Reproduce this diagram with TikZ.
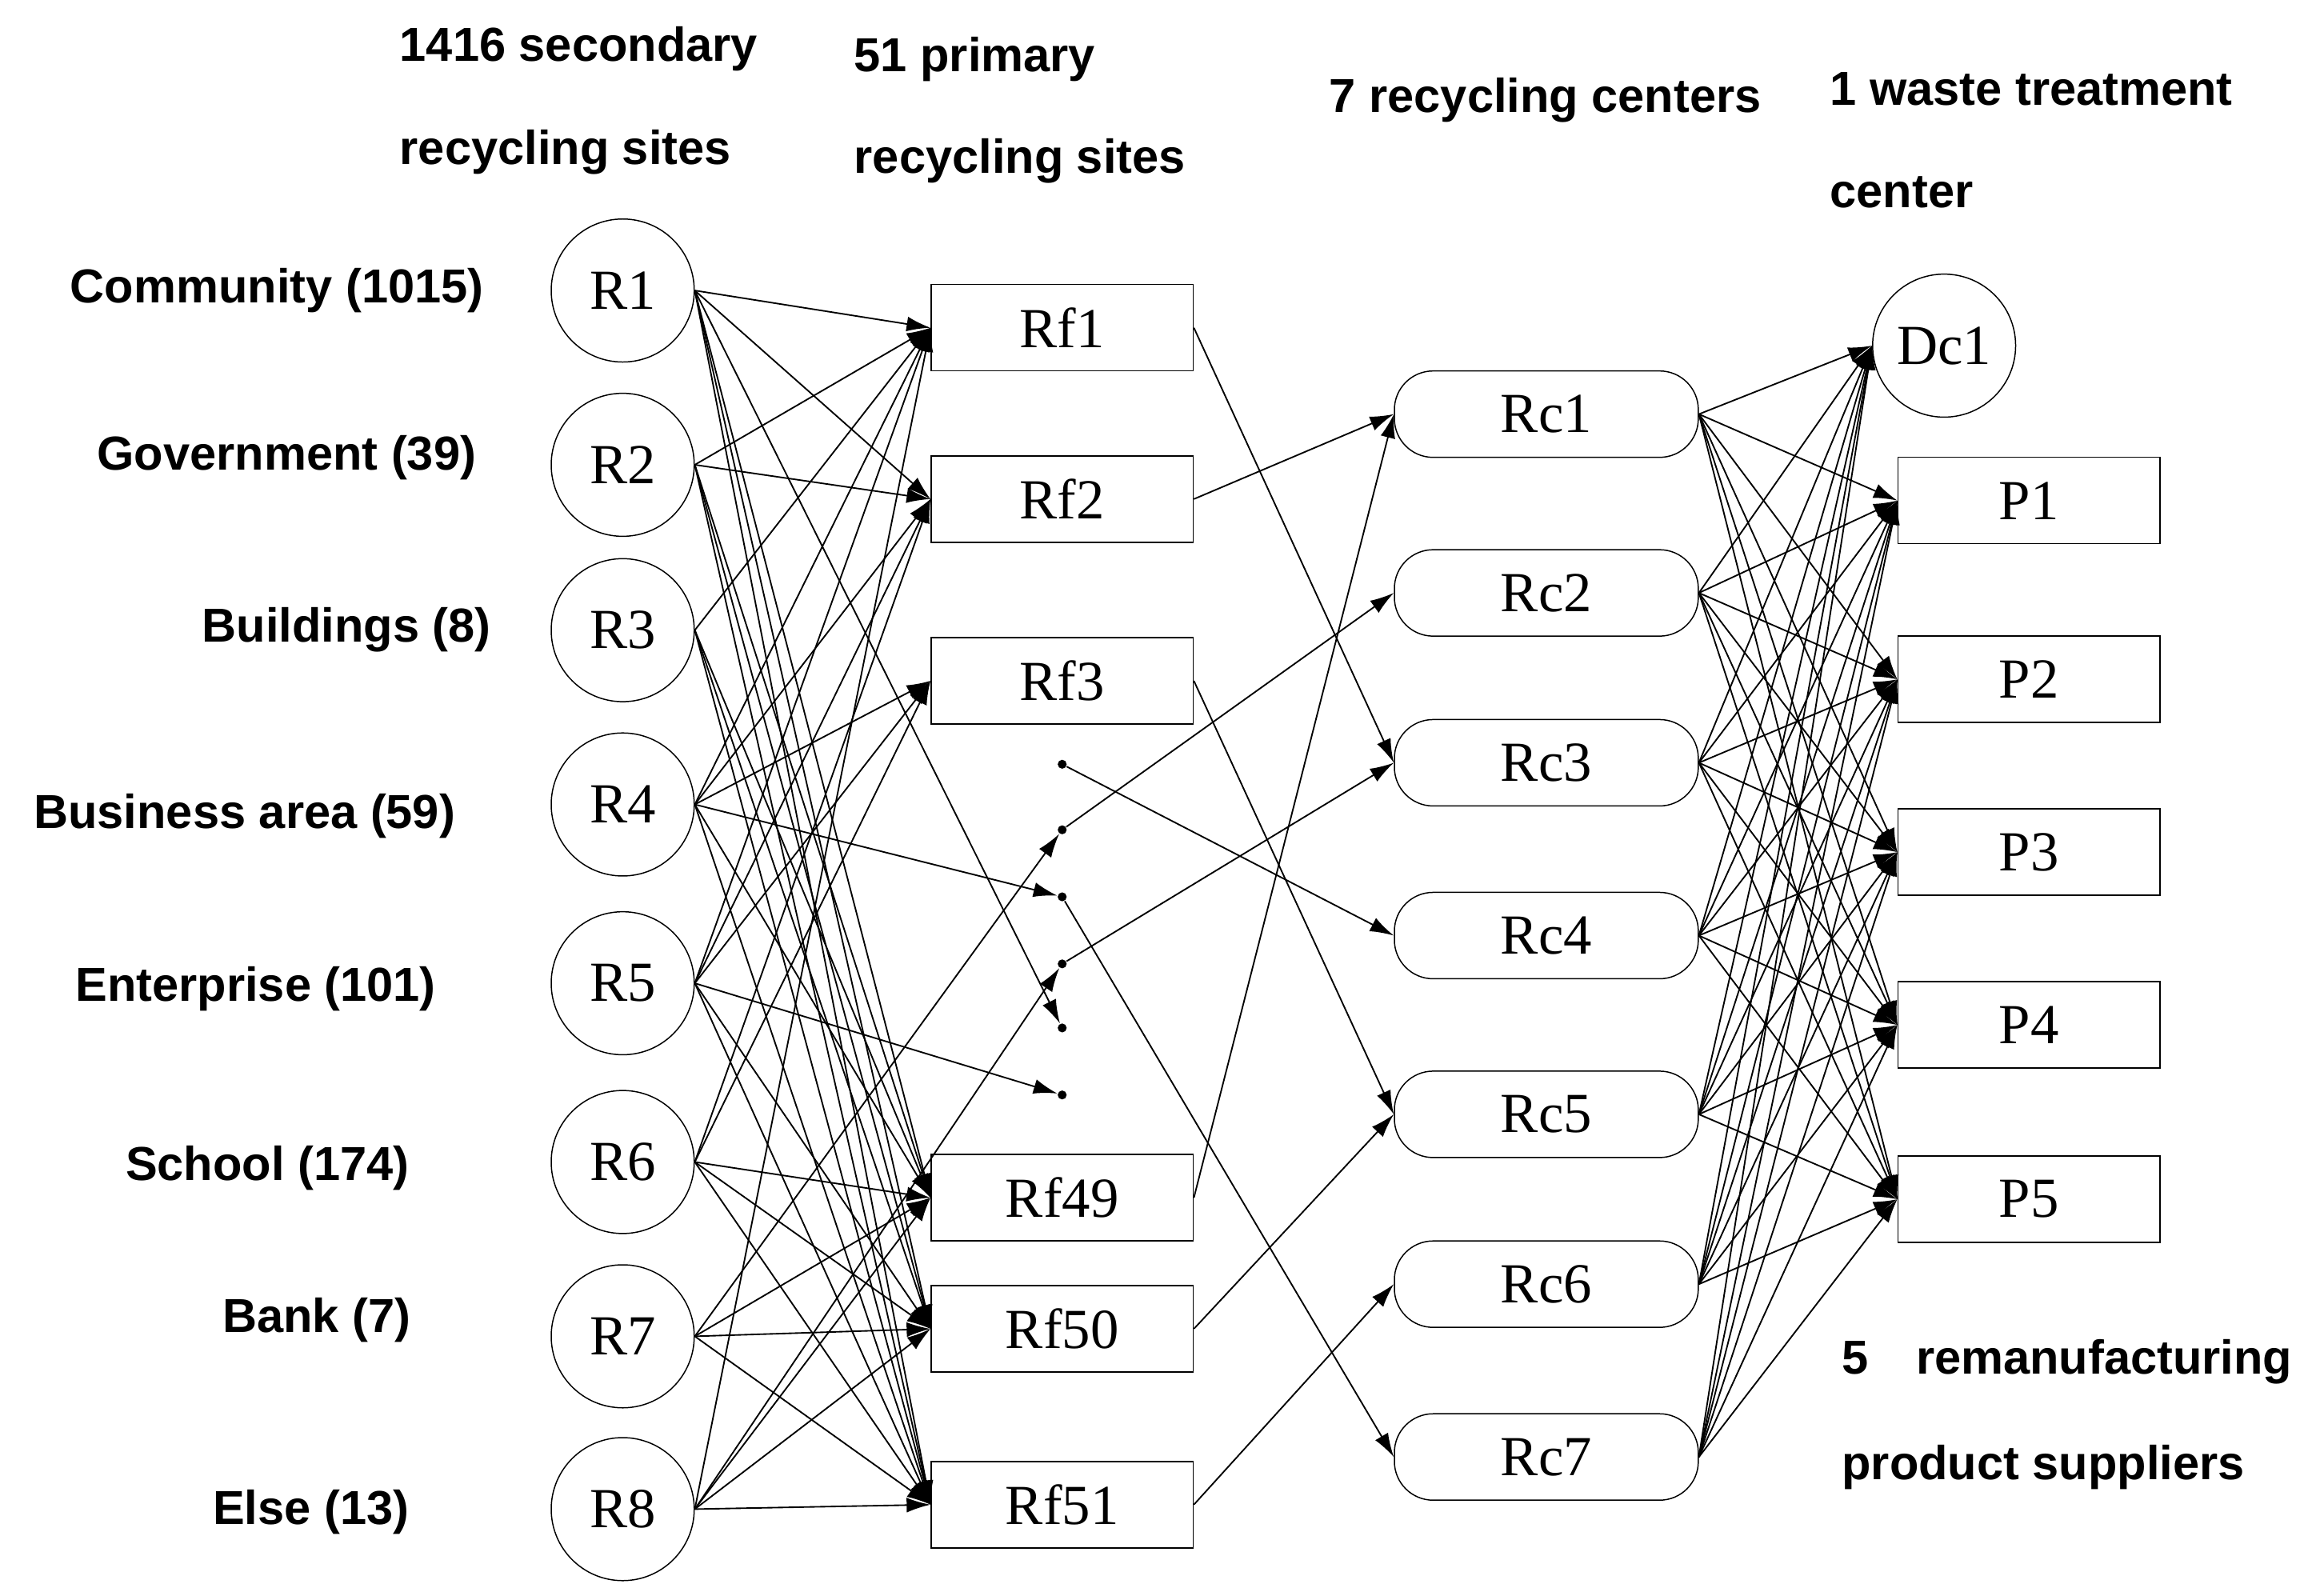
\documentclass[tikz,border=0pt]{standalone}
\usepackage{fontspec}
\setmainfont{Liberation Serif}
\newfontfamily\lab{Liberation Sans}
\usetikzlibrary{arrows.meta}
\begin{document}
\begin{tikzpicture}[x=0.5pt,y=-0.5pt,
  rn/.style={circle,draw,minimum size=48pt,inner sep=0pt,font=\fontsize{19}{19}\selectfont},
  bx/.style={rectangle,draw,minimum width=88pt,minimum height=29pt,inner sep=0pt,font=\fontsize{19}{19}\selectfont},
  rc/.style={rectangle,rounded corners=13pt,draw,minimum width=102pt,minimum height=29pt,inner sep=0pt,font=\fontsize{19}{19}\selectfont},
  dt/.style={circle,fill,inner sep=0pt,minimum size=3pt},
  lb/.style={font=\lab\bfseries\fontsize{16}{16}\selectfont,inner sep=0pt},
  ar/.style={-{Latex[length=8pt,width=5pt]},line width=0.5pt}]
\useasboundingbox (0,0) rectangle (1560,1071);
\foreach \i/\y in {1/195,2/312,3/423,4/540,5/660,6/780,7/897,8/1013}
  \node[rn] (R\i) at (418,\y) {R\i};
\foreach \n/\y in {1/220,2/335,3/457,49/804,50/892,51/1010}
  \node[bx] (Rf\n) at (713,\y) {Rf\n};
\foreach \i/\y in {1/513,2/557,3/602,4/647,5/690,6/735}
  \node[dt] (d\i) at (713,\y) {};
\foreach \i/\y in {1/278,2/398,3/512,4/628,5/748,6/862,7/978}
  \node[rc] (Rc\i) at (1038,\y) {Rc\i};
\node[rn] (Dc1) at (1305,232) {Dc1};
\foreach \i/\y in {1/336,2/456,3/572,4/688,5/805}
  \node[bx] (P\i) at (1362,\y) {P\i};
\node[lb,anchor=east] (l1) at (325,195) {Community (1015)};
\node[lb,anchor=east] (l2) at (320,307) {Government (39)};
\node[lb,anchor=east] (l3) at (330,423) {Buildings (8)};
\node[lb,anchor=east] (l4) at (306,548) {Business area (59)};
\node[lb,anchor=east] (l5) at (293,664) {Enterprise (101)};
\node[lb,anchor=east] (l6) at (275,784) {School (174)};
\node[lb,anchor=east] (l7) at (276,886) {Bank (7)};
\node[lb,anchor=east] (l8) at (275,1015) {Else (13)};
\node[lb,anchor=west] (h1) at (268,33) {1416 secondary};
\node[lb,anchor=west] (h1b) at (268,102) {recycling sites};
\node[lb,anchor=west] (h2) at (573,40) {51 primary};
\node[lb,anchor=west] (h2b) at (573,108) {recycling sites};
\node[lb,anchor=west] (h3) at (892,67) {7 recycling centers};
\node[lb,anchor=west] (h4) at (1228,60) {1 waste treatment};
\node[lb,anchor=west] (h4b) at (1228,129) {center};
\node[lb,anchor=west] (h5) at (1236,914) {5\quad remanufacturing};
\node[lb,anchor=west] (h5b) at (1236,985) {product suppliers};
\foreach \a/\b in {1/Rf1,1/Rf2,1/Rf49,1/Rf50,1/Rf51,2/Rf1,2/Rf2,2/Rf49,2/Rf50,2/Rf51,
  3/Rf1,3/Rf49,3/Rf50,3/Rf51,4/Rf1,4/Rf2,4/Rf3,4/Rf49,4/Rf51,5/Rf1,5/Rf2,5/Rf3,5/Rf50,5/Rf51,
  6/Rf2,6/Rf3,6/Rf49,6/Rf50,6/Rf51,7/Rf49,7/Rf50,7/Rf51,8/Rf49,8/Rf50,8/Rf51,8/Rf1}
  \draw[ar] (R\a.east) -- (\b.west);
\draw[ar] (R1.east) -- (d5);
\draw[ar] (R4.east) -- (d3);
\draw[ar] (R5.east) -- (d6);
\draw[ar] (R7.east) -- (d2);
\draw[ar] (R8.east) -- (d4);
\foreach \a/\b in {Rf1/Rc3,Rf2/Rc1,Rf3/Rc5,Rf49/Rc1,Rf50/Rc5,Rf51/Rc6}
  \draw[ar] (\a.east) -- (\b.west);
\foreach \a/\b in {d1/Rc4,d2/Rc2,d4/Rc3,d3/Rc7}
  \draw[ar] (\a) -- (\b.west);
\foreach \i in {1,...,7}{
  \draw[ar] (Rc\i.east) -- (Dc1.west);
  \foreach \j in {1,...,5} \draw[ar] (Rc\i.east) -- (P\j.west);
}
\end{tikzpicture}
\end{document}
